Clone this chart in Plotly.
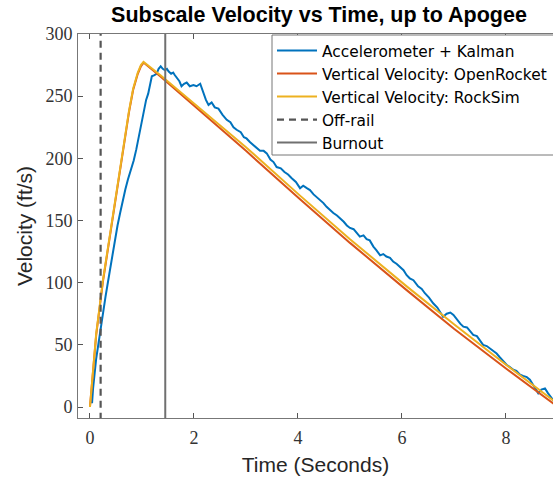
import plotly.graph_objects as go

# ---- data ----
t_kalman = [0.04, 0.06, 0.12, 0.17, 0.22, 0.30, 0.38, 0.45, 0.53, 0.58, 0.63, 0.68, 0.73, 0.79, 0.84,
            0.89, 0.94, 0.99, 1.04, 1.08, 1.12, 1.16, 1.19, 1.24, 1.28, 1.32, 1.36, 1.40, 1.44, 1.48,
            1.51, 1.56, 1.60, 1.63, 1.68, 1.72, 1.76, 1.81, 1.86, 1.92, 1.99, 2.05, 2.12, 2.18, 2.23,
            2.28, 2.34, 2.40, 2.47, 2.55, 2.63, 2.70, 2.76, 2.82, 2.90, 2.96, 3.01, 3.08, 3.14, 3.21,
            3.27, 3.34, 3.40, 3.47, 3.53, 3.59, 3.67, 3.74, 3.81, 3.88, 3.96, 4.04, 4.10, 4.17, 4.23,
            4.30, 4.36, 4.42, 4.49, 4.55, 4.62, 4.68, 4.75, 4.81, 4.88, 4.94, 5.00, 5.07, 5.13, 5.19,
            5.26, 5.32, 5.38, 5.45, 5.51, 5.58, 5.64, 5.70, 5.77, 5.83, 5.90, 5.96, 6.03, 6.09, 6.15,
            6.22, 6.31, 6.38, 6.44, 6.52, 6.60, 6.68, 6.74, 6.79, 6.86, 6.93, 6.99, 7.06, 7.12, 7.18,
            7.25, 7.31, 7.37, 7.44, 7.50, 7.56, 7.63, 7.70, 7.76, 7.82, 7.88, 7.95, 8.01, 8.08, 8.14,
            8.20, 8.27, 8.33, 8.40, 8.46, 8.52, 8.58, 8.62, 8.68, 8.75, 8.81, 8.88, 8.95]
v_kalman = [3, 15, 39, 54, 69, 89, 109, 127, 146, 156, 166, 175, 183, 191, 198,
            207, 217, 228, 239, 247, 252, 260, 266, 267, 268, 272, 274, 272, 271, 272,
            270, 268, 269, 267, 264, 262, 258, 260, 261, 258, 259, 258, 260, 252, 247,
            243, 245, 241, 240, 235, 231, 229, 225, 223, 221, 217, 216, 213, 211, 208,
            206, 206, 204, 199, 197, 193, 192, 189, 187, 184, 181, 176, 178, 176, 174.5,
            171, 169, 166.5, 164, 161, 158, 156, 154, 152, 149, 146, 144, 143, 140, 137,
            138, 135, 134, 129, 126, 122, 123, 121, 120, 117, 115, 113, 110, 106, 103.5,
            102, 97, 95, 91.5, 88, 83.4, 80, 76, 72.6, 75, 76, 74, 70, 67, 64.6,
            64, 61, 58, 57, 53, 50, 49, 47, 45, 43, 40, 37, 34, 32, 30,
            29, 26, 25, 24, 22, 18, 14, 11, 14, 15, 11, 7, 3]

t_openrocket = [0.0, 0.12, 0.25, 0.41, 0.54, 0.67, 0.75, 0.83, 0.92, 0.98, 1.03, 1.35, 2.12, 3.0,
                4.04, 5.0, 6.09, 7.0, 8.0, 8.95]
v_openrocket = [0, 58, 101, 145, 177, 215, 237, 255, 268, 274, 277, 266, 238, 206,
                167, 132, 94, 63, 31, 1.5]

t_rocksim = [0.0, 0.12, 0.25, 0.41, 0.54, 0.67, 0.75, 0.83, 0.92, 0.98, 1.03, 1.35, 2.12, 3.0,
             4.04, 5.0, 6.09, 7.0, 8.0, 8.95]
v_rocksim = [0, 59, 102, 146, 178, 216, 238, 256, 269, 275, 277.5, 267, 240, 209,
             170, 135, 97, 66.5, 34, 4]

t_offrail = 0.205
t_burnout = 1.448
line_span = [-20, 320]

x_ticks = [0, 2, 4, 6, 8]
y_ticks = [0, 50, 100, 150, 200, 250, 300]

BLUE = "#0072BD"
ORANGE = "#D95319"
YELLOW = "#EDB120"
SANS = "Liberation Sans, Arial, Helvetica, sans-serif"
LEG = "DejaVu Sans, Liberation Sans, sans-serif"
SERIF = "Liberation Serif, Times New Roman, serif"

W, H = 553, 479
PL, PT, PW, PH = 78, 34, 475, 384

fig = go.Figure()
fig.add_trace(go.Scatter(x=t_kalman, y=v_kalman, mode="lines", name="Accelerometer + Kalman",
                         line=dict(color=BLUE, width=2)))
fig.add_trace(go.Scatter(x=t_openrocket, y=v_openrocket, mode="lines", name="Vertical Velocity: OpenRocket",
                         line=dict(color=ORANGE, width=2)))
fig.add_trace(go.Scatter(x=t_rocksim, y=v_rocksim, mode="lines", name="Vertical Velocity: RockSim",
                         line=dict(color=YELLOW, width=2)))
fig.add_trace(go.Scatter(x=[t_offrail, t_offrail], y=line_span, mode="lines", name="Off-rail",
                         line=dict(color="#555555", width=2.2, dash="7px,5px")))
fig.add_trace(go.Scatter(x=[t_burnout, t_burnout], y=line_span, mode="lines", name="Burnout",
                         line=dict(color="#707070", width=2)))

# legend box (white, grey border), drawn as a shape so the legend rows can be placed freely
fig.add_shape(type="rect", xref="paper", yref="paper",
              x0=(272 - PL) / PW, x1=1.05, y0=1 - (155 - PT) / PH, y1=1 - (35 - PT) / PH,
              fillcolor="white", line=dict(color="#777777", width=1), layer="above")

fig.update_layout(
    width=W, height=H,
    margin=dict(l=PL, r=0, t=PT, b=H - PT - PH, autoexpand=False),
    paper_bgcolor="white", plot_bgcolor="white",
    title=dict(text="<b>Subscale Velocity vs Time, up to Apogee</b>",
               font=dict(family=SANS, size=21.5, color="black"),
               x=319 / W, xref="container", xanchor="center",
               y=1 - 14 / H, yref="container", yanchor="middle"),
    showlegend=True,
    legend=dict(x=(272 - PL) / PW, xanchor="left", y=1 - (34 - PT) / PH, yanchor="top",
                bgcolor="rgba(0,0,0,0)", borderwidth=0,
                font=dict(family=LEG, size=15.4, color="black"),
                itemwidth=40, tracegroupgap=0),
    xaxis=dict(range=[-0.23, 8.904], tickvals=x_ticks, ticktext=[str(v) for v in x_ticks],
               automargin=False,
               showgrid=False, zeroline=False, showline=True, linecolor="#777777", linewidth=1,
               mirror="ticks", ticks="inside", ticklen=5, tickcolor="#555555",
               ticklabelstandoff=3,
               tickfont=dict(family=SERIF, size=18, color="#333333"),
               title=dict(text="Time (Seconds)", font=dict(family=SANS, size=21, color="#262626"),
                          standoff=10)),
    yaxis=dict(range=[-8.85, 300], tickvals=y_ticks, ticktext=[str(v) for v in y_ticks],
               automargin=False,
               showgrid=False, zeroline=False, showline=True, linecolor="#777777", linewidth=1,
               ticks="inside", ticklen=5, tickcolor="#555555", ticklabelstandoff=1,
               tickfont=dict(family=SERIF, size=18, color="#333333"),
               title=dict(text="Velocity (ft/s)", font=dict(family=SANS, size=21, color="#262626"),
                          standoff=7)),
)

fig.write_html("out.html", config={"displayModeBar": False},
               post_script="document.body.style.margin='0';document.body.style.overflow='hidden';")
